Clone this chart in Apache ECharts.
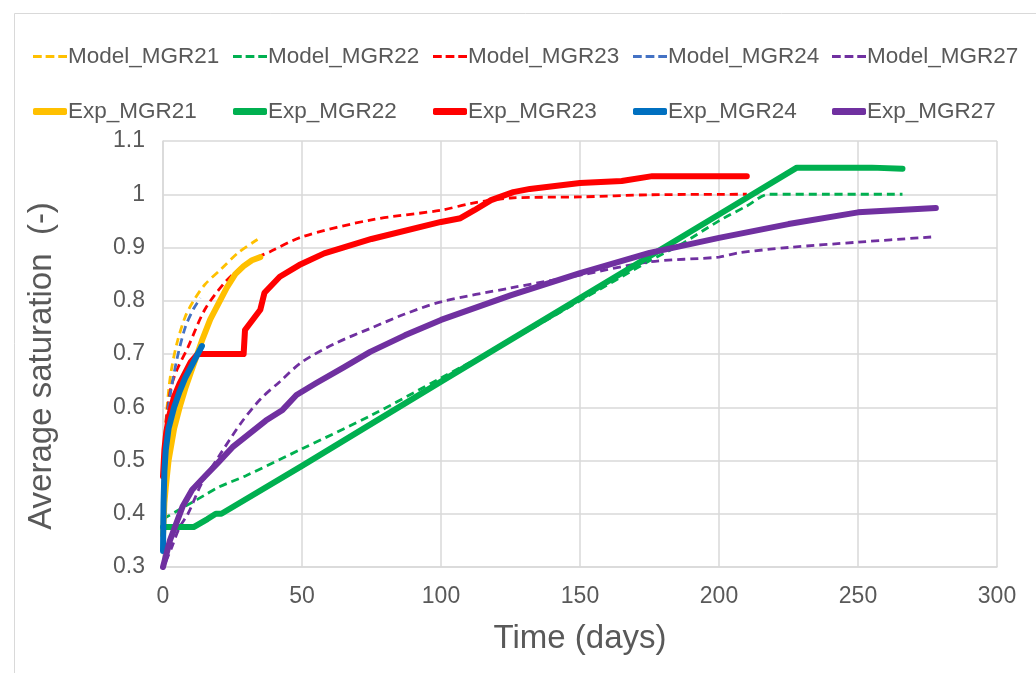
<!DOCTYPE html>
<html>
<head>
<meta charset="utf-8">
<script src="https://cdn.jsdelivr.net/npm/echarts@6/dist/echarts.min.js"></script>
<style>
html,body{margin:0;padding:0;background:#fff;}
#c{width:1036px;height:673px;}
</style>
</head>
<body>
<div id="c"></div>
<script>
const xTicks = [0, 50, 100, 150, 200, 250, 300];
const yTicks = [0.3, 0.4, 0.5, 0.6, 0.7, 0.8, 0.9, 1, 1.1];

const model21 = [[0,0.40],[0.5,0.52],[1,0.57],[2,0.63],[3,0.67],[5,0.72],[8,0.77],[11,0.80],[15,0.83],[21,0.86],[27,0.89],[34,0.915]];
const model22 = [[0,0.39],[5,0.405],[10,0.42],[15,0.435],[20,0.45],[30,0.472],[50,0.522],[75,0.585],[100,0.655],[125,0.725],[150,0.80],[175,0.875],[186,0.905],[200,0.95],[210,0.978],[218,1.0],[240,1.0],[266,1.0]];
const model23 = [[0,0.45],[0.5,0.53],[1,0.57],[2,0.61],[3,0.64],[5,0.67],[9,0.713],[15,0.783],[22,0.833],[28,0.862],[35,0.884],[38.5,0.892],[50,0.92],[75,0.952],[100,0.97],[111,0.983],[125,0.993],[150,0.995],[175,0.999],[210,1.0]];
const model24 = [[0,0.40],[0.5,0.52],[1,0.56],[2.5,0.62],[5,0.69],[8,0.75],[11,0.785],[13.5,0.805]];
const model27 = [[1,0.31],[3,0.335],[6,0.375],[9,0.40],[14,0.458],[20,0.507],[28,0.57],[35,0.615],[42,0.648],[50,0.685],[62,0.72],[75,0.749],[87,0.775],[100,0.798],[125,0.824],[150,0.848],[175,0.873],[200,0.882],[207,0.89],[225,0.90],[250,0.91],[277,0.92]];

const exp21 = [[0,0.36],[0.5,0.42],[1,0.45],[2,0.50],[4,0.56],[6,0.60],[8,0.635],[10,0.665],[12,0.695],[14,0.725],[17,0.765],[20,0.795],[23,0.825],[26,0.85],[29,0.865],[32,0.876],[35,0.882]];
const exp22 = [[0,0.375],[11,0.375],[16,0.39],[19,0.40],[21,0.40],[50,0.49],[100,0.648],[150,0.805],[200,0.962],[228,1.05],[240,1.05],[255,1.05],[266,1.048]];
const exp23 = [[0,0.47],[0.5,0.52],[1,0.545],[2,0.58],[4,0.62],[6,0.645],[8,0.665],[10,0.685],[12.5,0.70],[29,0.70],[29.5,0.745],[35,0.783],[36.5,0.815],[42,0.845],[49,0.867],[58,0.889],[75,0.916],[100,0.948],[107,0.955],[112,0.97],[118,0.989],[126,1.004],[132,1.01],[150,1.021],[165,1.025],[176,1.034],[210,1.034]];
const exp24 = [[0,0.33],[0.2,0.42],[0.5,0.48],[1,0.52],[2,0.56],[4,0.60],[6,0.63],[8,0.655],[10,0.675],[12,0.695],[14,0.715]];
const exp27 = [[0,0.30],[2.5,0.35],[5,0.385],[7,0.413],[10.5,0.445],[15,0.47],[20,0.497],[25,0.525],[31,0.55],[37,0.575],[43,0.595],[48,0.623],[55,0.645],[65,0.675],[74.5,0.704],[87,0.735],[100,0.764],[125,0.81],[150,0.852],[175,0.89],[200,0.918],[225,0.944],[250,0.966],[278,0.974]];

const names = ['MGR21','MGR22','MGR23','MGR24','MGR27'];
const modelData = [model21, model22, model23, model24, model27];
const expData = [exp21, exp22, exp23, exp24, exp27];
const modelColors = ['#FFC000','#00B050','#FF0000','#4472C4','#7030A0'];
const expColors = ['#FFC000','#00B050','#FF0000','#0070C0','#7030A0'];

const series = [];
names.forEach((n,i)=>{
  series.push({
    name:'Model_'+n, type:'line', data:modelData[i], showSymbol:false, symbol:'none', smooth:0.3,
    lineStyle:{color:modelColors[i], width:2.8, type:[8,5]}, itemStyle:{color:modelColors[i]}, z:2
  });
});
names.forEach((n,i)=>{
  series.push({
    name:'Exp_'+n, type:'line', data:expData[i], showSymbol:false, symbol:'none',
    lineStyle:{color:expColors[i], width:6, cap:'round', join:'round'}, itemStyle:{color:expColors[i]}, z:3
  });
});

const colLeft = [28, 228, 428, 628, 827];
const legendText = {fontSize:22.5, color:'#595959', fontFamily:'Liberation Sans, Arial, sans-serif', padding:[0,0,0,-4]};
const dashIcon = 'path://M0,0h9v3h-9z M13,0h9v3h-9z M26,0h9v3h-9z';
const legends = [];
names.forEach((n,i)=>{
  legends.push({left:colLeft[i], top:40, itemWidth:34, itemHeight:3, icon:dashIcon,
    data:['Model_'+n], textStyle:legendText, selectedMode:false});
  legends.push({left:colLeft[i], top:95, itemWidth:34, itemHeight:7, icon:'roundRect',
    data:['Exp_'+n], textStyle:legendText, selectedMode:false});
});

const chart = echarts.init(document.getElementById('c'), null, {renderer:'canvas'});
chart.setOption({
  backgroundColor:'#fff',
  animation:false,
  textStyle:{fontFamily:'Liberation Sans, Arial, sans-serif'},
  graphic:[{type:'rect', shape:{x:14.5,y:13.5,width:1040,height:680}, style:{fill:'none', stroke:'#d9d9d9', lineWidth:1}}],
  legend:legends,
  grid:{left:163, right:39, top:141, bottom:106, containLabel:false},
  xAxis:{
    type:'value', min:xTicks[0], max:xTicks[xTicks.length-1], interval:50,
    name:'Time (days)', nameLocation:'middle', nameGap:55,
    nameTextStyle:{fontSize:33, color:'#595959'},
    axisLine:{show:true, lineStyle:{color:'#d9d9d9', width:1.5}},
    axisTick:{show:false},
    axisLabel:{fontSize:23, color:'#595959', margin:18},
    splitLine:{show:true, lineStyle:{color:'#d9d9d9', width:1.5}}
  },
  yAxis:{
    type:'value', min:yTicks[0], max:yTicks[yTicks.length-1], interval:0.1,
    name:'Average saturation  (-)', nameLocation:'middle', nameGap:105,
    nameTextStyle:{fontSize:33, color:'#595959', padding:[0,24,0,0]},
    axisLine:{show:true, lineStyle:{color:'#d9d9d9', width:1.5}},
    axisTick:{show:false},
    axisLabel:{fontSize:23, color:'#595959', margin:18, formatter:v=>String(Math.round(v*10)/10)},
    splitLine:{show:true, lineStyle:{color:'#d9d9d9', width:1.5}}
  },
  series:series
});
</script>
</body>
</html>
